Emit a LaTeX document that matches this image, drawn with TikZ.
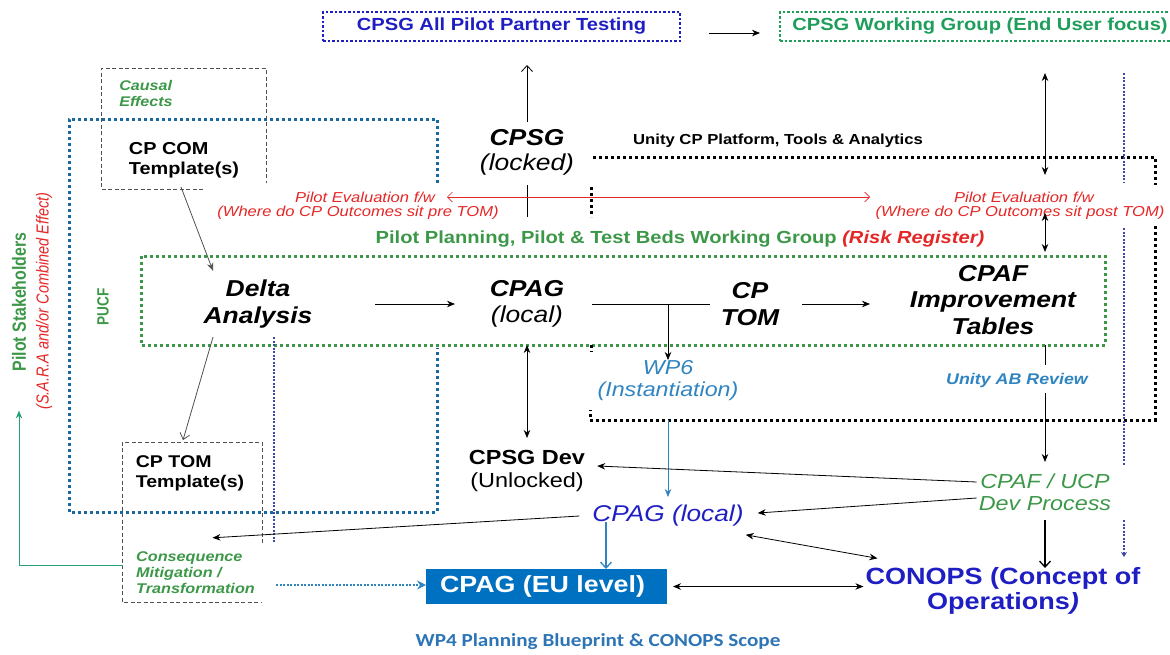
\documentclass[tikz,border=0pt]{standalone}
\usepackage{fontspec}
\setmainfont{Liberation Sans}[FakeStretch=1.15]
\newfontfamily\droitfont{Liberation Sans}
\newfontfamily\titrefont{Carlito}[FakeStretch=1.15]
\usepackage{xcolor}
\usetikzlibrary{arrows.meta, positioning}

\definecolor{vertwg}{RGB}{30,158,90}
\definecolor{vertpp}{RGB}{60,152,72}
\definecolor{bleufonce}{RGB}{30,30,195}
\definecolor{rouge}{RGB}{228,38,38}
\definecolor{bleuwp}{RGB}{48,132,192}
\definecolor{bleuboite}{RGB}{0,112,192}
\definecolor{bleupucf}{RGB}{25,105,160}
\definecolor{bleutrait}{RGB}{60,72,165}
\definecolor{vertfleche}{RGB}{40,160,120}
\definecolor{titrebleu}{RGB}{46,117,182}
\definecolor{gris}{RGB}{80,80,80}

\begin{document}
\begin{tikzpicture}[x=1pt, y=-1pt, every node/.style={inner sep=2pt},
    fl/.style={-{Stealth[length=8pt,width=6.5pt]}, line width=0.8pt},
    dfl/.style={{Stealth[length=8pt,width=6.5pt]}-{Stealth[length=8pt,width=6.5pt]}, line width=0.8pt},
    ofl/.style={-{Straight Barb[length=6pt,width=11pt]}, line width=0.8pt},
    grand/.style={font=\fontsize{23}{26.5}\selectfont\bfseries\itshape, align=center},
    rougetxt/.style={font=\fontsize{14.4}{16}\selectfont\itshape, text=rouge},
    pointille/.style={line width=3pt, dash pattern=on 3pt off 3pt},
    tiret/.style={draw=gris, line width=0.8pt, dash pattern=on 4pt off 2.5pt},
    fintrait/.style={bleutrait, line width=2pt, dash pattern=on 2pt off 1.5pt}]

    \useasboundingbox (0,0) rectangle (1170,654);

    % Cadres en pointilles
    \draw[bleupucf, pointille] (437,183) -- (437,119) -- (69,119) -- (69,512) -- (437,512) -- (437,348);
    \draw[tiret] (203,189) -- (101,189) -- (101,68) -- (266,68) -- (266,183);
    \draw[tiret] (262,543) -- (262,442) -- (122,442) -- (122,602) -- (262,602);
    \draw[vertpp, pointille] (141,256) rectangle (1105,345);
    \draw[pointille] (593,157) -- (1155,157) -- (1155,185);
    \draw[pointille] (1155,226) -- (1155,420) -- (590,420) -- (590,410);
    \draw[pointille] (591,187) -- (591,217) (591,345) -- (591,352);
    \draw[fintrait] (274,337) -- (274,543);
    \draw[fintrait] (1124,73) -- (1124,183) (1124,228) -- (1124,465);
    \draw[fintrait, -{Stealth[length=5pt,width=6pt]}] (1124,520) -- (1124,557);

    % Noeuds du haut
    \node[draw=bleufonce, line width=2.5pt, dash pattern=on 2.5pt off 2pt, minimum width=357pt, minimum height=29pt, inner sep=0pt, outer sep=0pt, text=bleufonce, font=\fontsize{17.5}{20}\selectfont\bfseries] (tst) at (501.5,26.5) {CPSG All Pilot Partner Testing};
    \node[draw=vertwg, line width=2.5pt, dash pattern=on 2.5pt off 2pt, minimum width=420pt, minimum height=29pt, inner sep=0pt, outer sep=0pt, text=vertwg, font=\fontsize{17.5}{20}\selectfont\bfseries] (wg) at (990,26.5) {CPSG Working Group (End User focus)\hspace*{20pt}};
    \node[font=\fontsize{23}{25}\selectfont\itshape, align=center] (lck) at (527,152) {{\bfseries CPSG}\\(locked)};
    \node[font=\fontsize{14.5}{17}\selectfont\bfseries] (uni) at (778,141) {Unity CP Platform, Tools \& Analytics};
    \node[rougetxt] (pe1) at (365,197) {Pilot Evaluation f/w};
    \node[rougetxt] (pe2) at (358,213) {(Where do CP Outcomes sit pre TOM)};
    \node[rougetxt] (qe1) at (1024,197) {Pilot Evaluation f/w};
    \node[rougetxt] (qe2) at (1020,213) {(Where do CP Outcomes sit post TOM)};
    \node[font=\fontsize{17.5}{20}\selectfont\bfseries, text=vertpp] (pp) at (680,239) {Pilot Planning, Pilot \& Test Beds Working Group \textcolor{rouge}{\itshape(Risk Register)}};

    % Groupe de pilotage
    \node[grand] (dlt) at (258,304) {Delta\\Analysis};
    \node[grand] (cpg) at (527,304) {CPAG\\{\mdseries(local)}};
    \node[grand] (tom) at (750,304) {CP\\TOM};
    \node[grand] (cpf) at (993,300) {CPAF\\Improvement\\Tables};

    % Noeuds du bas
    \node[font=\fontsize{20.2}{22}\selectfont\itshape, text=bleuwp, align=center] (wp6) at (668,381) {WP6\\(Instantiation)};
    \node[font=\fontsize{15.5}{18}\selectfont\bfseries\itshape, text=bleuwp] (uab) at (1017,380) {Unity AB Review};
    \node[font=\fontsize{20.3}{21.5}\selectfont\itshape, text=vertpp, align=center] (dvp) at (1045,492) {CPAF / UCP\\Dev Process};
    \node[font=\fontsize{23.5}{25}\selectfont\bfseries, text=bleufonce, align=center] (cns) at (1003,591) {CONOPS (Concept of\\Operations{\itshape)}};
    \node[font=\fontsize{20.4}{23}\selectfont, align=center] (dev) at (527,471) {\textbf{CPSG Dev}\\(Unlocked)};
    \node[font=\fontsize{22.8}{25}\selectfont\itshape, text=bleufonce] (cpl) at (668,516) {CPAG (local)};
    \node[fill=bleuboite, text=white, font=\fontsize{23.3}{25}\selectfont\bfseries, minimum width=241pt, minimum height=35pt, inner sep=0pt, outer sep=0pt] (eu) at (546.5,586.5) {CPAG (EU level)\hspace*{8pt}};

    % Cote gauche
    \node[font=\fontsize{14}{16}\selectfont\bfseries\itshape, text=vertpp, align=left] (cse) at (146,93) {Causal\\Effects};
    \node[font=\fontsize{17.3}{20}\selectfont\bfseries, align=left] (ccm) at (184,160) {CP COM\\Template(s)};
    \node[font=\fontsize{17}{20}\selectfont\bfseries, align=left] (ctt) at (190,473) {CP TOM\\Template(s)};
    \node[font=\fontsize{14.1}{16}\selectfont\bfseries\itshape, text=vertpp, align=left] (csq) at (195.5,573) {Consequence\\Mitigation /\\Transformation};
    \node[rotate=90, text=vertpp, font=\droitfont\fontsize{13.6}{16}\selectfont\bfseries] (pucf) at (103,307) {\scalebox{1}[1.2]{PUCF}};
    \node[rotate=90, text=vertpp, font=\droitfont\fontsize{15.9}{18}\selectfont\bfseries] (psh) at (19,302) {\scalebox{1}[1.2]{Pilot Stakeholders}};
    \node[rotate=90, text=rouge, font=\droitfont\fontsize{14.5}{16}\selectfont\itshape] (sara) at (44,301) {\scalebox{1}[1.2]{(S.A.R.A and/or Combined Effect)}};

    \node[font=\titrefont\fontsize{18.4}{20}\selectfont\bfseries, text=titrebleu] (ttl) at (598,642) {WP4 Planning Blueprint \& CONOPS Scope};

    % Fleches
    \draw[fl] ([xshift=29pt,yshift=-6.5pt]tst.east) -- ([xshift=-20pt,yshift=-6.5pt]wg.west);
    \draw[ofl, shorten <=30pt, shorten >=24pt] (lck.center) -- (lck.center |- tst.south);
    \draw[line width=0.8pt, shorten <=33pt, shorten >=22pt] (lck.center) -- (lck.center |- pp.center);
    \draw[rouge, line width=0.6pt, {Straight Barb[length=5pt,width=10pt]}-{Straight Barb[length=5pt,width=10pt]}, shorten <=82pt, shorten >=154pt] (pe1.center) -- (qe1.center);
    \draw[dfl, shorten <=32pt, shorten >=22pt] (wg.south -| dvp.center) -- (qe1.center -| dvp.center);
    \draw[dfl, shorten >=48pt] (qe2.center -| dvp.center) -- (cpf.center -| dvp.center);

    \draw[fl, shorten <=117pt, shorten >=72pt] (dlt.center) -- (cpg.center);
    \draw[line width=0.8pt, shorten <=65pt, shorten >=40pt] (cpg.center) -- (tom.center);
    \draw[fl, shorten <=52pt, shorten >=123pt] (tom.center) -- (tom.center -| cpf.center);
    \draw[fl, shorten >=21pt] (cpg.center -| wp6.center) -- (wp6.center);
    \draw[line width=0.8pt, shorten <=45pt, shorten >=15pt] (cpf.center -| dvp.center) -- (uab.center -| dvp.center);
    \draw[fl, shorten <=13pt, shorten >=30pt] (uab.center -| dvp.center) -- (dvp.center);
    \draw[ofl, line width=1.3pt, shorten <=28pt, shorten >=23pt] (dvp.center) -- (dvp.center |- cns.center);

    \draw[dfl, shorten <=41pt, shorten >=33pt] (cpg.center) -- (dev.center);
    \draw[fl, bleuwp, shorten <=39pt, shorten >=19pt] (wp6.center) -- (cpl.center);
    \draw[bleuwp, line width=1.3pt, -{Straight Barb[length=6pt,width=11pt]}, shorten <=6pt] ([xshift=-62pt]cpl.center) -- ([xshift=-62pt]cpl.center |- eu.north);
    \draw[fl] ([yshift=10pt]dvp.west) -- ([xshift=10pt,yshift=5pt]dev.east);
    \draw[fl] ([yshift=-6pt]dvp.west) -- ([xshift=12pt,yshift=3pt]cpl.east);
    \draw[dfl] ([yshift=-6pt]cpl.south east) -- ([xshift=14pt,yshift=7pt]cns.north west);
    \draw[dfl, shorten <=6pt] (eu.east) -- (eu.east -| cns.west);
    \draw[fl] ([xshift=-11pt]cpl.west) -- ([xshift=17pt,yshift=12pt]csq.north);

    \draw[fl, gris] ([xshift=-3pt,yshift=-7pt]ccm.south) -- ([xshift=-45pt,yshift=7pt]dlt.north);
    \draw[gris, line width=0.8pt, -{Straight Barb[length=6pt,width=10pt]}] ([xshift=-45pt,yshift=-7pt]dlt.south) -- ([xshift=-7pt,yshift=13pt]ctt.north);
    \draw[vertfleche, line width=1pt, -{Stealth[length=8pt,width=6.5pt]}] ([xshift=-11pt,yshift=8pt]csq.west) -| ([yshift=-37pt]psh.west);
    \coordinate (qd) at ([xshift=19pt,yshift=-12pt]csq.east);
    \draw[bleuwp, line width=2pt, dash pattern=on 2pt off 1.5pt, -{Stealth[length=9pt,width=9pt]}] (qd) -- (qd -| eu.west);

\end{tikzpicture}
\end{document}
